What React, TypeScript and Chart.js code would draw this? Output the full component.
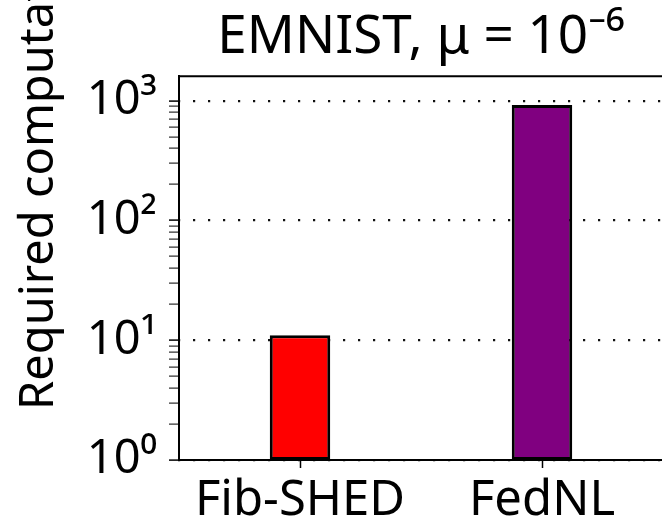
import React, { useEffect, useRef } from 'react';
import { Chart, registerables } from 'chart.js';

Chart.register(...registerables);

const categories = ['Fib-SHED', 'FedNL'];
const values = [11, 920];
const barColors = ['#ff0000', '#800080'];
const majorTickValues = [1, 10, 100, 1000];
const majorTickLabels = ['10⁰', '10¹', '10²', '10³'];
const titleText = 'EMNIST, μ = 10⁻⁶';
const yAxisTitle = 'Required computation rounds';
const yMin = 1;
const yMax = 1600;

const FONT = "'Noto Sans', 'DejaVu Sans', sans-serif";

const isMajor = (v: number) => {
  const l = Math.log10(v);
  return Math.abs(l - Math.round(l)) < 1e-9;
};

const framePlugin = {
  id: 'framePlugin',
  afterDraw(chart: any) {
    const { ctx, chartArea } = chart;
    ctx.save();
    // top spine
    ctx.strokeStyle = '#000';
    ctx.lineWidth = 2;
    ctx.beginPath();
    ctx.moveTo(chartArea.left - 1, chartArea.top);
    ctx.lineTo(chartArea.right + 1, chartArea.top);
    ctx.stroke();
    // y axis title
    ctx.translate(53, 410);
    ctx.rotate(-Math.PI / 2);
    ctx.fillStyle = '#000';
    ctx.font = `47px ${FONT}`;
    ctx.textAlign = 'left';
    ctx.textBaseline = 'alphabetic';
    ctx.fillText(yAxisTitle, 0, 0);
    ctx.restore();
  },
};

export default function App() {
  const canvasRef = useRef<HTMLCanvasElement | null>(null);

  useEffect(() => {
    const canvas = canvasRef.current;
    if (!canvas) return;
    const chart = new Chart(canvas, {
      type: 'bar',
      data: {
        labels: categories,
        datasets: [
          {
            data: values,
            backgroundColor: barColors,
            borderColor: '#000',
            borderWidth: 3,
            borderSkipped: false,
            barPercentage: 0.25,
            categoryPercentage: 1,
          },
        ],
      },
      options: {
        animation: false,
        responsive: false,
        maintainAspectRatio: false,
        layout: { padding: { left: 0, right: 37, top: 0, bottom: 0 } },
        plugins: {
          legend: { display: false },
          tooltip: { enabled: false },
          title: {
            display: true,
            text: titleText,
            fullSize: false,
            color: '#000',
            font: { family: FONT, size: 53, weight: 'normal', lineHeight: 1.1 },
            padding: { top: 9, bottom: 9 },
          },
        },
        scales: {
          x: {
            type: 'category',
            offset: true,
            grid: {
              display: true,
              drawOnChartArea: false,
              drawTicks: true,
              tickLength: 8,
              tickColor: '#000',
              tickWidth: 1.5,
              offset: false,
            },
            border: { display: true, color: '#000', width: 2 },
            ticks: {
              color: '#000',
              font: { family: FONT, size: 49 },
              padding: 4,
              maxRotation: 0,
              autoSkip: false,
            },
            afterFit: (axis: any) => {
              axis.height = 63;
            },
          },
          y: {
            type: 'logarithmic',
            min: yMin,
            max: yMax,
            afterBuildTicks: (axis: any) => {
              axis.ticks = axis.ticks.filter((t: any) => {
                const p = Math.pow(10, Math.floor(Math.log10(t.value) + 1e-9));
                const s = t.value / p;
                return Math.abs(s - Math.round(s)) < 1e-6 && t.value <= yMax;
              });
            },
            afterFit: (axis: any) => {
              axis.width = 179;
            },
            grid: {
              display: true,
              drawOnChartArea: true,
              drawTicks: true,
              tickLength: 10,
              color: (ctx: any) =>
                ctx.tick && isMajor(ctx.tick.value) ? '#111' : 'rgba(0,0,0,0)',
              lineWidth: 2.2,
              tickColor: '#000',
              tickWidth: (ctx: any) => (ctx.tick && isMajor(ctx.tick.value) ? 1.5 : 1),
            },
            border: { display: true, color: '#000', width: 2, dash: [2.2, 12.8], dashOffset: -13 },
            ticks: {
              color: '#000',
              autoSkip: false,
              padding: 12,
              font: { family: FONT, size: 47 },
              callback: (value: any) => {
                const v = Number(value);
                const idx = majorTickValues.findIndex((m) => Math.abs(m - v) < 1e-6);
                return idx >= 0 ? majorTickLabels[idx] : '';
              },
            },
          },
        },
      },
      plugins: [framePlugin],
    });
    return () => chart.destroy();
  }, []);

  return (
    <div
      style={{
        position: 'fixed',
        left: 0,
        top: 0,
        width: 662,
        height: 523,
        overflow: 'hidden',
        background: '#fff',
      }}
    >
      <canvas ref={canvasRef} width={700} height={523} style={{ display: 'block' }} />
    </div>
  );
}
